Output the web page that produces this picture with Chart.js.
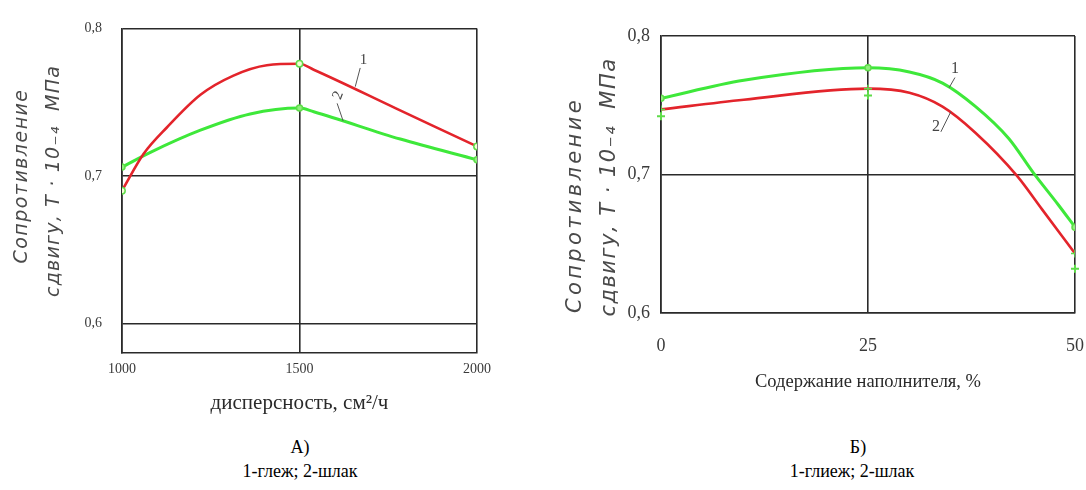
<!DOCTYPE html>
<html lang="ru">
<head>
<meta charset="utf-8">
<title>Сопротивление сдвигу</title>
<script src="https://cdn.jsdelivr.net/npm/chart.js@4.4.1/dist/chart.umd.min.js"></script>
<style>
  html, body { margin: 0; padding: 0; background: #fff; }
  body { position: relative; width: 1086px; height: 490px; overflow: hidden; }
  canvas { position: absolute; top: 0; }
  #chartA { left: 0; }
  #chartB { left: 540px; }
  .caption {
    position: absolute;
    font-family: "Liberation Serif", serif;
    font-size: 18px;
    line-height: 1;
    color: #000;
    white-space: nowrap;
    transform: translateX(-50%);
  }
</style>
</head>
<body>
<canvas id="chartA" width="500" height="420"></canvas>
<canvas id="chartB" width="546" height="420"></canvas>
<div class="caption" style="left:300px; top:438px">А)</div>
<div class="caption" style="left:300px; top:462px">1-глеж; 2-шлак</div>
<div class="caption" style="left:858px; top:438px">Б)</div>
<div class="caption" style="left:852px; top:462px">1-глиеж; 2-шлак</div>
<script>
// shear resistance, T·10^-4 MPa
const stressTicks = [0.6, 0.7, 0.8];

// А) vs dispersity, cm²/h
const dispTicks = [1000, 1500, 2000];
const glezhX = [1000, 1061, 1127, 1221, 1314, 1408, 1500, 1540, 1770, 2000];
const glezhY = [0.690, 0.715, 0.733, 0.755, 0.768, 0.775, 0.776, 0.772, 0.746, 0.720];
const slagAX = [1000, 1080, 1221, 1361, 1500, 1540, 1784, 2000];
const slagAY = [0.706, 0.716, 0.731, 0.742, 0.746, 0.7435, 0.725, 0.711];

// Б) vs filler content, %
const fillerTicks = [0, 25, 50];
const gliezhX = [0, 10, 25, 30, 34, 38, 42, 45, 48, 50];
const gliezhY = [0.755, 0.768, 0.777, 0.774, 0.766, 0.749, 0.726, 0.701, 0.678, 0.662];
const slagBX = [0, 10, 25, 30, 34, 38, 43, 46, 50];
const slagBY = [0.747, 0.754, 0.762, 0.759, 0.749, 0.730, 0.699, 0.675, 0.643];
const extraBX = [0, 25, 50];
const extraBY = [0.742, 0.757, 0.632];

const RED = "#e3242b";
const GREEN = "#3ee83a";
const MARK = "#5fdc4a";
const INK = "#2a2a2a";

const pts = (xs, ys) => xs.map((x, i) => ({ x, y: ys[i] }));
const comma = (v) => String(v).replace(".", ",");

// rotated two-line y title, letters spaced out to a given length
const sideTitle = (font, lines) => ({
  id: "sideTitle",
  afterDraw(chart) {
    const ctx = chart.ctx;
    ctx.save();
    ctx.font = font;
    ctx.fillStyle = "#4a4a4a";
    ctx.textAlign = "center";
    ctx.textBaseline = "middle";
    lines.forEach((l) => {
      ctx.letterSpacing = "0px";
      const w = ctx.measureText(l.text).width;
      ctx.letterSpacing = (l.length - w) / l.text.length + "px";
      ctx.save();
      ctx.translate(l.x, l.y);
      ctx.rotate(-Math.PI / 2);
      ctx.fillText(l.text, 0, 0);
      ctx.restore();
    });
    ctx.restore();
  },
});

// curve numbers with their little leader strokes
const curveTags = (font, tags) => ({
  id: "curveTags",
  afterDatasetsDraw(chart) {
    const { ctx, scales: { x, y } } = chart;
    ctx.save();
    ctx.strokeStyle = "#555";
    ctx.fillStyle = "#444";
    ctx.lineWidth = 1;
    ctx.font = font;
    ctx.textAlign = "center";
    ctx.textBaseline = "middle";
    tags.forEach((t) => {
      ctx.beginPath();
      ctx.moveTo(x.getPixelForValue(t.from[0]), y.getPixelForValue(t.from[1]));
      ctx.lineTo(x.getPixelForValue(t.to[0]), y.getPixelForValue(t.to[1]));
      ctx.stroke();
      ctx.save();
      ctx.translate(x.getPixelForValue(t.at[0]), y.getPixelForValue(t.at[1]));
      ctx.rotate(t.angle || 0);
      ctx.fillText(t.text, 0, 0);
      ctx.restore();
    });
    ctx.restore();
  },
});

const lineSet = (data, color, width, marks, markStyle) => ({
  data,
  borderColor: color,
  borderWidth: width,
  cubicInterpolationMode: "monotone",
  pointStyle: markStyle.style,
  pointRadius: (c) => (marks.includes(c.raw.x) ? markStyle.r : 0),
  pointBackgroundColor: markStyle.fill,
  pointBorderColor: MARK,
  pointBorderWidth: 1.5,
});

const axes = (s) => ({
  x: {
    type: "linear",
    min: s.xTicks[0],
    max: s.xTicks[s.xTicks.length - 1],
    afterBuildTicks: (sc) => { sc.ticks = s.xTicks.map((v) => ({ value: v })); },
    afterFit: (sc) => {
      sc.height = s.xHeight;
      // end labels may hang past the frame, the layout padding covers them
      sc.paddingLeft = 0;
      sc.paddingRight = 0;
    },
    grid: { color: INK, lineWidth: 1.6, drawTicks: false },
    border: { color: INK, width: 1.6 },
    ticks: {
      color: "#3a3a3a",
      padding: s.xPad,
      maxRotation: 0,
      callback: (v) => String(v),
      font: { family: "Liberation Serif", size: s.tickSize },
    },
    title: {
      display: true,
      text: s.xTitle,
      color: INK,
      padding: { top: 0, bottom: s.titlePad },
      font: { family: "Liberation Serif", size: s.titleSize },
    },
  },
  y: {
    type: "linear",
    min: s.yMin,
    max: 0.8,
    afterBuildTicks: (sc) => { sc.ticks = stressTicks.map((v) => ({ value: v })); },
    afterFit: (sc) => { sc.width = s.yWidth; },
    grid: { color: INK, lineWidth: 1.6, drawTicks: false },
    border: { color: INK, width: 1.6 },
    ticks: {
      color: "#3a3a3a",
      padding: s.yPad,
      callback: comma,
      font: { family: "Liberation Serif", size: s.tickSize },
    },
  },
});

const baseOptions = (s, padding) => ({
  responsive: false,
  animation: false,
  devicePixelRatio: 1,
  layout: { padding },
  plugins: { legend: { display: false }, tooltip: { enabled: false } },
  scales: axes(s),
});

// А) glezh (1, red) and slag (2, green)
new Chart(document.getElementById("chartA"), {
  type: "line",
  data: {
    datasets: [
      lineSet(pts(glezhX, glezhY), RED, 2.6, dispTicks, { style: "circle", r: 3.2, fill: "#f4ffd6" }),
      lineSet(pts(slagAX, slagAY), GREEN, 3, dispTicks, { style: "circle", r: 3, fill: "#8ff07c" }),
    ],
  },
  options: baseOptions(
    {
      xTicks: dispTicks, yMin: 0.58, xHeight: 67, yWidth: 122,
      xPad: 8, yPad: 20, tickSize: 14,
      xTitle: "дисперсность, см²/ч", titleSize: 21, titlePad: 4,
    },
    { top: 23, right: 23, left: 0, bottom: 0 }
  ),
  plugins: [
    sideTitle("italic 19px 'DejaVu Sans'", [
      { text: "Сопротивление", x: 22, y: 176, length: 175 },
      { text: "сдвигу, T · 10₋₄  МПа", x: 54, y: 181, length: 232 },
    ]),
    curveTags("15px 'Liberation Serif'", [
      { text: "1", at: [1680, 0.7785], from: [1671, 0.7732], to: [1657, 0.7605] },
      { text: "2", at: [1609, 0.7546], from: [1606, 0.7492], to: [1623, 0.7372], angle: -1.2 },
    ]),
  ],
});

// Б) gliezh (1, green) and slag (2, red)
new Chart(document.getElementById("chartB"), {
  type: "line",
  data: {
    datasets: [
      lineSet(pts(gliezhX, gliezhY), GREEN, 3, fillerTicks, { style: "circle", r: 3, fill: "#8ff07c" }),
      lineSet(pts(slagBX, slagBY), RED, 2.6, fillerTicks, { style: "cross", r: 4, fill: MARK }),
      {
        data: pts(extraBX, extraBY),
        showLine: false,
        clip: false,
        pointStyle: "cross",
        pointRadius: 4,
        pointBorderColor: MARK,
        pointBorderWidth: 2,
      },
    ],
  },
  options: baseOptions(
    {
      xTicks: fillerTicks, yMin: 0.6, xHeight: 107, yWidth: 121,
      xPad: 22, yPad: 11, tickSize: 18,
      xTitle: "Содержание наполнителя, %", titleSize: 18.5, titlePad: 27,
    },
    { top: 36, right: 11, left: 0, bottom: 0 }
  ),
  plugins: [
    sideTitle("italic 21px 'DejaVu Sans'", [
      { text: "Сопротивление", x: 36, y: 205, length: 216 },
      { text: "сдвигу, T · 10₋₄  МПа", x: 70, y: 187, length: 259 },
    ]),
    curveTags("16px 'Liberation Serif'", [
      { text: "1", at: [35.5, 0.7764], from: [35.5, 0.770], to: [34.8, 0.7627] },
      { text: "2", at: [33.2, 0.7344], from: [33.8, 0.7308], to: [35.0, 0.7453] },
    ]),
  ],
});
</script>
</body>
</html>
